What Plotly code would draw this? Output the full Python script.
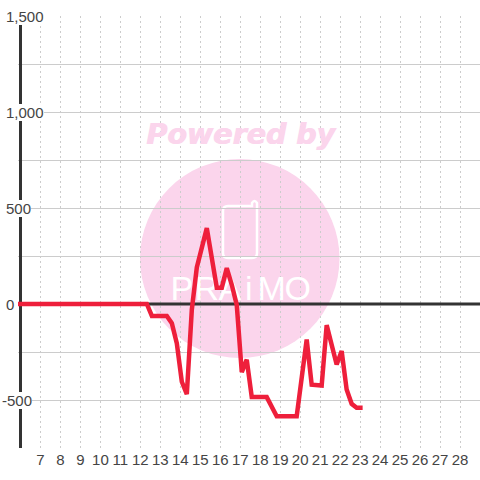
import plotly.graph_objects as go

x_vals = [5.875, 12.325, 12.575, 13.325, 13.575, 13.825, 14.075, 14.325, 14.575, 14.825, 15.325, 15.575, 15.825,
          16.075, 16.325, 16.575, 16.825, 17.075, 17.325, 17.575, 18.325, 18.825, 19.825, 20.325, 20.575,
          21.075, 21.325, 21.825, 22.075, 22.325, 22.575, 22.825, 23.125]
y_vals = [0, 0, -62, -62, -100, -205, -405, -470, -30, 190, 395, 240, 85,
          85, 187, 100, -5, -355, -290, -485, -485, -585, -585, -185, -420,
          -425, -110, -315, -245, -445, -520, -540, -540]
x_ticks = list(range(7, 29))
y_labels = [1500, 1000, 500, 0, -500]

W, H = 480, 480
L, R, T, B = 18, 0, 16, 32
X0 = 5.875
PW, PH = W - L - R, H - T - B

def px(v):
    return (v - L) / PW

def py(v):
    return (H - B - v) / PH

PINK = "#fbd5ec"
phone = (f"M {px(228)} {py(206)} L {px(252)} {py(206)} L {px(252)} {py(203)} "
         f"Q {px(254.5)} {py(199)} {px(257)} {py(203)} L {px(257)} {py(253)} "
         f"Q {px(257)} {py(258)} {px(252)} {py(258)} L {px(228)} {py(258)} "
         f"Q {px(223)} {py(258)} {px(223)} {py(253)} L {px(223)} {py(211)} "
         f"Q {px(223)} {py(206)} {px(228)} {py(206)} Z")

fig = go.Figure()
# watermark lettering, sits over the grid but under the data
letters = ["P", "R", "A", "i", "M", "O"]
letter_px = [182, 207, 230, 249, 272, 298]
fig.add_trace(go.Scatter(
    x=[X0 + (p - L) / 20 for p in letter_px], y=[(304 - 291) / 0.192] * 6,
    mode="text", text=letters, textposition="middle center",
    textfont=dict(family="Liberation Sans", size=34, color="white"),
    hoverinfo="skip", showlegend=False))
# y axis line and zero line
fig.add_trace(go.Scatter(x=[6, 6], y=[-750, 1500], mode="lines",
                         line=dict(color="#333333", width=3), hoverinfo="skip", showlegend=False))
fig.add_trace(go.Scatter(x=[6, 29], y=[0, 0], mode="lines",
                         line=dict(color="#333333", width=3), hoverinfo="skip", showlegend=False))
fig.add_trace(go.Scatter(x=x_vals, y=y_vals, mode="lines",
                         line=dict(color="#ee1f3b", width=4.5), showlegend=False))

fig.update_layout(
    width=W, height=H, margin=dict(l=L, r=R, t=T, b=B),
    paper_bgcolor="white", plot_bgcolor="rgba(0,0,0,0)",
    font=dict(family="Liberation Sans", size=15, color="#444444"),
    xaxis=dict(range=[X0, 29], tickmode="array", tickvals=x_ticks, ticktext=[str(v) for v in x_ticks],
               showgrid=True, gridcolor="#cccccc", gridwidth=1, griddash="2px,3px",
               zeroline=False, showline=False, ticks="", ticklabelstandoff=1,
               tickfont=dict(size=15, color="#444444")),
    yaxis=dict(range=[-750, 1500], dtick=250, showgrid=True, gridcolor="#cccccc", gridwidth=1,
               zeroline=False, showline=False, ticks="", showticklabels=False),
    shapes=[
        dict(type="circle", xref="paper", yref="paper", layer="below",
             x0=px(140), x1=px(339.5), y0=py(358), y1=py(159),
             fillcolor=PINK, line=dict(width=0)),
        dict(type="path", xref="paper", yref="paper", layer="below", path=phone,
             line=dict(color="white", width=2.5), fillcolor="rgba(0,0,0,0)"),
    ],
    annotations=[
        dict(text="Powered by", xref="paper", yref="paper", x=px(241), y=py(135),
             xanchor="center", yanchor="middle", showarrow=False,
             font=dict(family="DejaVu Sans", size=28.5, color="#fbd5ec", weight="bold", style="italic",
                       shadow="1px 0 0 #fbd5ec")),
    ] + [
        dict(text=f"{v:,}", xref="paper", yref="y", x=0, y=v, xanchor="left", yanchor="middle",
             xshift=-12 if v >= 0 else -16, showarrow=False, bgcolor="white", borderpad=0, borderwidth=0,
             font=dict(size=15, color="#444444"))
        for v in y_labels
    ],
)
fig.write_html("out.html", config={"displayModeBar": False},
               post_script="document.body.style.margin='0';document.documentElement.style.overflow='hidden';")
